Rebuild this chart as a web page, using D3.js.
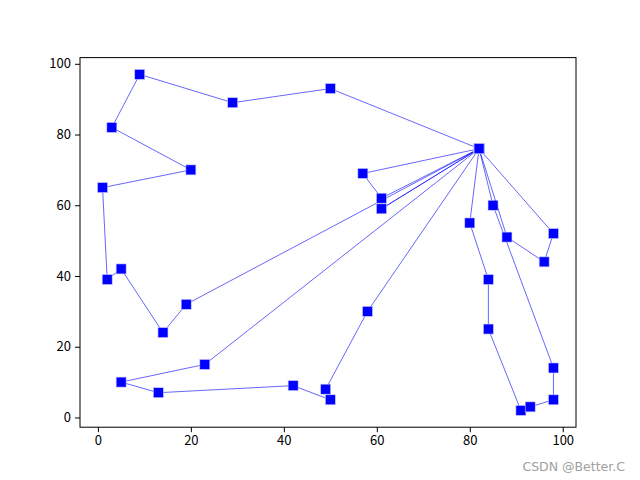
<!DOCTYPE html>
<html>
<head>
<meta charset="utf-8">
<script src="https://cdnjs.cloudflare.com/ajax/libs/d3/7.8.5/d3.min.js"></script>
<style>
  body { margin: 0; background: #fff; }
  svg { display: block; }
</style>
</head>
<body>
<div id="chart"></div>
<script>
// depot and vehicle routes (each route starts and ends at the depot)
const depot = [82, 76];
const route1 = [[50, 93], [29, 89], [9, 97], [3, 82], [20, 70], [1, 65], [2, 39], [5, 42], [14, 24], [19, 32]];
const route2 = [[57, 69], [61, 62]];
const route3 = [[61, 59]];
const route4 = [[58, 30], [49, 8], [50, 5], [42, 9], [13, 7], [5, 10], [23, 15]];
const route5 = [[80, 55], [84, 39], [84, 25], [91, 2], [93, 3], [98, 5], [98, 14], [85, 60]];
const route6 = [[88, 51], [96, 44], [98, 52]];
const routes = [route1, route2, route3, route4, route5, route6];

const xTicks = [0, 20, 40, 60, 80, 100];
const yTicks = [0, 20, 40, 60, 80, 100];

const width = 640, height = 480;
const mLeft = 80, mRight = 576, mTop = 57.6, mBottom = 427.2;

const svg = d3.select("#chart").append("svg")
    .attr("width", width)
    .attr("height", height);

// matplotlib-like 5% margins
const x = d3.scaleLinear().domain([-3.85, 102.85]).range([mLeft, mRight]);
const y = d3.scaleLinear().domain([-2.75, 101.75]).range([mBottom, mTop]);

const line = d3.line().x(d => x(d[0])).y(d => y(d[1]));

const plot = svg.append("g");

routes.forEach(r => {
    const pts = [depot].concat(r, [depot]);
    plot.append("path")
        .attr("d", line(pts))
        .style("fill", "none")
        .style("stroke", "#0000ff")
        .style("stroke-opacity", 0.75)
        .style("stroke-width", 0.8);
    plot.selectAll(null)
        .data(pts)
        .enter().append("rect")
        .attr("x", d => x(d[0]) - 5)
        .attr("y", d => y(d[1]) - 5)
        .attr("width", 10)
        .attr("height", 10)
        .style("fill", "#0000ff")
        .style("stroke", "#ccccff")
        .style("stroke-width", 0.6);
});

// axes frame
svg.append("rect")
    .attr("x", mLeft).attr("y", mTop)
    .attr("width", mRight - mLeft).attr("height", mBottom - mTop)
    .style("fill", "none").style("stroke", "#000").style("stroke-width", 1);

const fontFam = "'Noto Sans CJK SC', 'DejaVu Sans', sans-serif";

const xAxis = svg.append("g")
    .attr("transform", `translate(0,${mBottom})`)
    .call(d3.axisBottom(x).tickValues(xTicks).tickSize(5).tickPadding(4));
const yAxis = svg.append("g")
    .attr("transform", `translate(${mLeft},0)`)
    .call(d3.axisLeft(y).tickValues(yTicks).tickSize(5).tickPadding(4));

[xAxis, yAxis].forEach(a => {
    a.select(".domain").remove();
    a.selectAll("text").style("font-family", fontFam).style("font-size", "13px").style("fill", "#000");
    a.selectAll("line").style("stroke", "#000");
});

svg.append("text")
    .attr("x", 625).attr("y", 471)
    .attr("text-anchor", "end")
    .style("font-family", "'DejaVu Sans', sans-serif")
    .style("font-size", "12.5px")
    .style("fill", "#a0a0a0")
    .text("CSDN @Better.C");
</script>
</body>
</html>
